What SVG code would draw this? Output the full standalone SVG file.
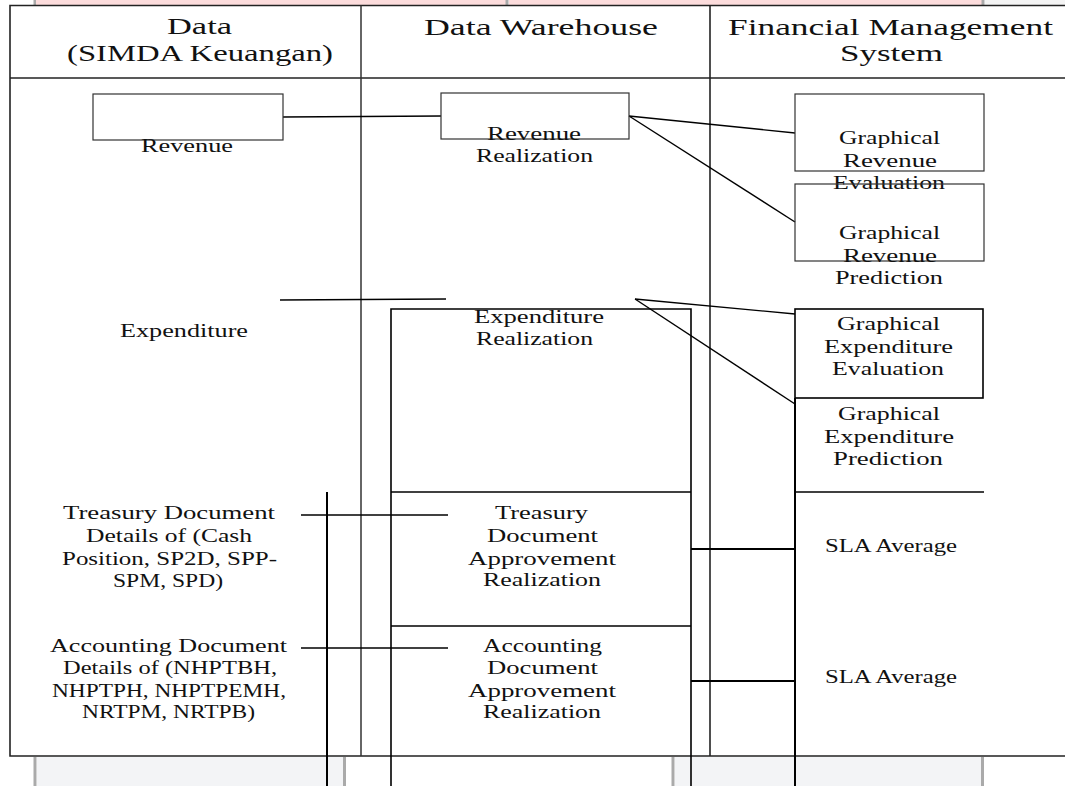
<svg xmlns="http://www.w3.org/2000/svg" width="1065" height="786" viewBox="0 0 1065 786">
<style>
text{font-family:"Liberation Serif","Times New Roman",serif;fill:#111;}
.h{font-size:22.5px;}
.b{font-size:19px;}
.box{fill:none;stroke:#333;stroke-width:1.2;}
.bk{fill:none;stroke:#000;stroke-width:1.6;}
.thick{fill:none;stroke:#000;stroke-width:2;}
.grid{fill:none;stroke:#222;stroke-width:1.6;}
.conn{fill:none;stroke:#000;stroke-width:1.4;}
</style>
<rect x="0" y="0" width="1065" height="786" fill="#fff"/>
<g id="background">
  <rect x="36" y="0" width="470" height="5" fill="#fcdcdc"/>
  <rect x="509" y="0" width="473" height="5" fill="#fcdcdc"/>
  <rect x="985" y="0" width="80" height="5" fill="#f4f4f4"/>
  <rect x="33.5" y="0" width="2.5" height="5" fill="#aaa"/>
  <rect x="505.5" y="0" width="3" height="5" fill="#aaa"/>
  <rect x="981.5" y="0" width="3" height="5" fill="#aaa"/>
  <rect x="37" y="757" width="306" height="29" fill="#f3f4f6"/>
  <rect x="675" y="757" width="306" height="29" fill="#f3f4f6"/>
  <rect x="33.5" y="757" width="3" height="29" fill="#aaa"/>
  <rect x="343" y="757" width="3" height="29" fill="#aaa"/>
  <rect x="671.5" y="757" width="3" height="29" fill="#aaa"/>
  <rect x="981" y="757" width="3" height="29" fill="#aaa"/>
</g>
<g id="table">
  <path class="grid" d="M1065 5.5 H10 V756 H1065"/>
  <line class="grid" x1="10" y1="78" x2="1065" y2="78"/>
  <line x1="361" y1="5.5" x2="361" y2="756" stroke="#333" stroke-width="1.5"/>
  <line class="grid" x1="710" y1="5.5" x2="710" y2="756" stroke="#000"/>
  <text class="h" x="167" y="34" textLength="65" lengthAdjust="spacingAndGlyphs">Data</text>
  <text class="h" x="67" y="61" textLength="266" lengthAdjust="spacingAndGlyphs">(SIMDA Keuangan)</text>
  <text class="h" x="424" y="34.5" textLength="234" lengthAdjust="spacingAndGlyphs">Data Warehouse</text>
  <text class="h" x="728" y="34.5" textLength="325" lengthAdjust="spacingAndGlyphs">Financial Management</text>
  <text class="h" x="840" y="60.5" textLength="103" lengthAdjust="spacingAndGlyphs">System</text>
</g>
<g id="connectors">
  <line class="conn" x1="283" y1="117" x2="441" y2="116"/>
  <line class="conn" x1="629" y1="116" x2="795" y2="133"/>
  <line class="conn" x1="629" y1="116" x2="795" y2="222"/>
  <line class="conn" x1="280" y1="300" x2="446" y2="299"/>
  <line class="conn" x1="635" y1="299" x2="795" y2="314"/>
  <line class="conn" x1="635" y1="299" x2="795" y2="404"/>
  <line class="conn" x1="301" y1="515" x2="448" y2="515"/>
  <line class="conn" x1="301" y1="648" x2="448" y2="648"/>
  <line class="thick" x1="327" y1="492" x2="327" y2="786"/>
  <line class="thick" x1="691" y1="549" x2="795" y2="549"/>
  <line class="thick" x1="691" y1="681" x2="795" y2="681"/>
</g>
<g id="revenue">
  <rect class="box" x="93" y="94" width="190" height="46"/>
  <text class="b" x="141" y="152" textLength="92" lengthAdjust="spacingAndGlyphs">Revenue</text>
</g>
<g id="revenue-realization">
  <rect class="box" x="441" y="93" width="188" height="46"/>
  <text class="b" x="487" y="140" textLength="94" lengthAdjust="spacingAndGlyphs">Revenue</text>
  <text class="b" x="476" y="162" textLength="117" lengthAdjust="spacingAndGlyphs">Realization</text>
</g>
<g id="graphical-revenue-evaluation">
  <rect class="box" x="795" y="94" width="189" height="77"/>
  <text class="b" x="839" y="144" textLength="101" lengthAdjust="spacingAndGlyphs">Graphical</text>
  <text class="b" x="843" y="166.5" textLength="94" lengthAdjust="spacingAndGlyphs">Revenue</text>
  <text class="b" x="833" y="189" textLength="112" lengthAdjust="spacingAndGlyphs">Evaluation</text>
</g>
<g id="graphical-revenue-prediction">
  <rect class="box" x="795" y="184" width="189" height="77"/>
  <text class="b" x="839" y="239" textLength="101" lengthAdjust="spacingAndGlyphs">Graphical</text>
  <text class="b" x="843" y="261.5" textLength="94" lengthAdjust="spacingAndGlyphs">Revenue</text>
  <text class="b" x="835" y="284" textLength="108" lengthAdjust="spacingAndGlyphs">Prediction</text>
</g>
<g id="expenditure">
  <text class="b" x="120" y="337" textLength="128" lengthAdjust="spacingAndGlyphs">Expenditure</text>
</g>
<g id="expenditure-realization">
  <path class="bk" d="M391 786 V309 H691 V786"/>
  <line class="bk" x1="391" y1="492" x2="691" y2="492"/>
  <text class="b" x="474" y="323" textLength="130" lengthAdjust="spacingAndGlyphs">Expenditure</text>
  <text class="b" x="476" y="345" textLength="117" lengthAdjust="spacingAndGlyphs">Realization</text>
</g>
<g id="graphical-expenditure-evaluation">
  <rect class="bk" x="795" y="309" width="188" height="89" stroke-width="1.3"/>
  <text class="b" x="837" y="330" textLength="103" lengthAdjust="spacingAndGlyphs">Graphical</text>
  <text class="b" x="824" y="353" textLength="129" lengthAdjust="spacingAndGlyphs">Expenditure</text>
  <text class="b" x="832" y="375" textLength="112" lengthAdjust="spacingAndGlyphs">Evaluation</text>
</g>
<g id="graphical-expenditure-prediction">
  <line class="thick" x1="795" y1="398" x2="795" y2="786"/>
  <line class="bk" x1="795" y1="492" x2="984" y2="492"/>
  <text class="b" x="838" y="420" textLength="102" lengthAdjust="spacingAndGlyphs">Graphical</text>
  <text class="b" x="824" y="443" textLength="130" lengthAdjust="spacingAndGlyphs">Expenditure</text>
  <text class="b" x="833" y="465" textLength="110" lengthAdjust="spacingAndGlyphs">Prediction</text>
</g>
<g id="treasury-document">
  <text class="b" x="63" y="519" textLength="212" lengthAdjust="spacingAndGlyphs">Treasury Document</text>
  <text class="b" x="86" y="542" textLength="166" lengthAdjust="spacingAndGlyphs">Details of (Cash</text>
  <text class="b" x="62" y="565" textLength="215" lengthAdjust="spacingAndGlyphs">Position, SP2D, SPP-</text>
  <text class="b" x="113" y="587" textLength="110" lengthAdjust="spacingAndGlyphs">SPM, SPD)</text>
</g>
<g id="accounting-document">
  <text class="b" x="50" y="652" textLength="237" lengthAdjust="spacingAndGlyphs">Accounting Document</text>
  <text class="b" x="63" y="674" textLength="214" lengthAdjust="spacingAndGlyphs">Details of (NHPTBH,</text>
  <text class="b" x="52" y="697" textLength="234" lengthAdjust="spacingAndGlyphs">NHPTPH, NHPTPEMH,</text>
  <text class="b" x="82" y="718" textLength="173" lengthAdjust="spacingAndGlyphs">NRTPM, NRTPB)</text>
</g>
<g id="treasury-approvement-realization">
  <line class="bk" x1="391" y1="626" x2="691" y2="626" stroke-width="1.3"/>
  <text class="b" x="495" y="519" textLength="93" lengthAdjust="spacingAndGlyphs">Treasury</text>
  <text class="b" x="487" y="542" textLength="111" lengthAdjust="spacingAndGlyphs">Document</text>
  <text class="b" x="468" y="565" textLength="148" lengthAdjust="spacingAndGlyphs">Approvement</text>
  <text class="b" x="483" y="586" textLength="118" lengthAdjust="spacingAndGlyphs">Realization</text>
</g>
<g id="accounting-approvement-realization">
  <text class="b" x="483" y="652" textLength="119" lengthAdjust="spacingAndGlyphs">Accounting</text>
  <text class="b" x="487" y="674" textLength="111" lengthAdjust="spacingAndGlyphs">Document</text>
  <text class="b" x="468" y="697" textLength="148" lengthAdjust="spacingAndGlyphs">Approvement</text>
  <text class="b" x="483" y="718" textLength="118" lengthAdjust="spacingAndGlyphs">Realization</text>
</g>
<g id="sla-average-treasury">
  <text class="b" x="825" y="552" textLength="132" lengthAdjust="spacingAndGlyphs">SLA  Average</text>
</g>
<g id="sla-average-accounting">
  <text class="b" x="825" y="683" textLength="132" lengthAdjust="spacingAndGlyphs">SLA  Average</text>
</g>
</svg>
